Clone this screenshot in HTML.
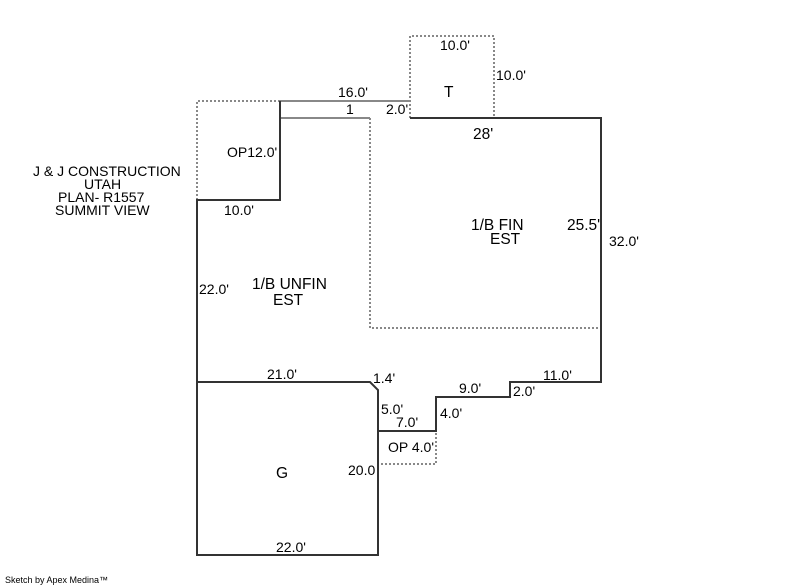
<!DOCTYPE html>
<html><head><style>body{margin:0;background:#fff}svg{display:block}text{font-family:"Liberation Sans",sans-serif;font-size:14px;fill:#000}.b{font-size:15.5px}</style></head><body>
<svg width="800" height="587" viewBox="0 0 800 587">
<g fill="none" stroke-width="2">
<path d="M197 200V101H280M410 118V36H494V118M370 118V328H601" stroke="#888" stroke-dasharray="2,2"/>
<path d="M378 431V464H436V431" stroke="#888" stroke-dasharray="2,2"/>
<path d="M280 101H410M280 118H370" stroke="#888"/>
<path d="M280 101V200H197V555H378V390L370 382H197M410 118H601V382H510V397H436V431H378" stroke="#333"/>
</g>
<text x="33" y="176">J &amp; J CONSTRUCTION</text>
<text x="84" y="189">UTAH</text>
<text x="58" y="202">PLAN- R1557</text>
<text x="55" y="215">SUMMIT VIEW</text>
<text x="440" y="50">10.0'</text>
<text x="496" y="80">10.0'</text>
<text class="b" x="444" y="97">T</text>
<text x="338" y="97">16.0'</text>
<text x="346" y="114">1</text>
<text x="386" y="114">2.0'</text>
<text class="b" x="473" y="139">28'</text>
<text x="227" y="157">OP12.0'</text>
<text x="224" y="215">10.0'</text>
<text class="b" x="471" y="230">1/B FIN</text>
<text class="b" x="490" y="244">EST</text>
<text class="b" x="567" y="230">25.5'</text>
<text x="609" y="246">32.0'</text>
<text x="199" y="294">22.0'</text>
<text class="b" x="252" y="289">1/B UNFIN</text>
<text class="b" x="273" y="305">EST</text>
<text x="267" y="379">21.0'</text>
<text x="373" y="383">1.4'</text>
<text x="543" y="380">11.0'</text>
<text x="459" y="393">9.0'</text>
<text x="513" y="396">2.0'</text>
<text x="381" y="414">5.0'</text>
<text x="440" y="418">4.0'</text>
<text x="396" y="427">7.0'</text>
<text x="388" y="452">OP 4.0'</text>
<text class="b" x="276" y="478">G</text>
<text x="348" y="475">20.0</text>
<text x="276" y="552">22.0'</text>
<text x="5" y="583" style="font-size:9px">Sketch by Apex Medina™</text>
</svg></body></html>
